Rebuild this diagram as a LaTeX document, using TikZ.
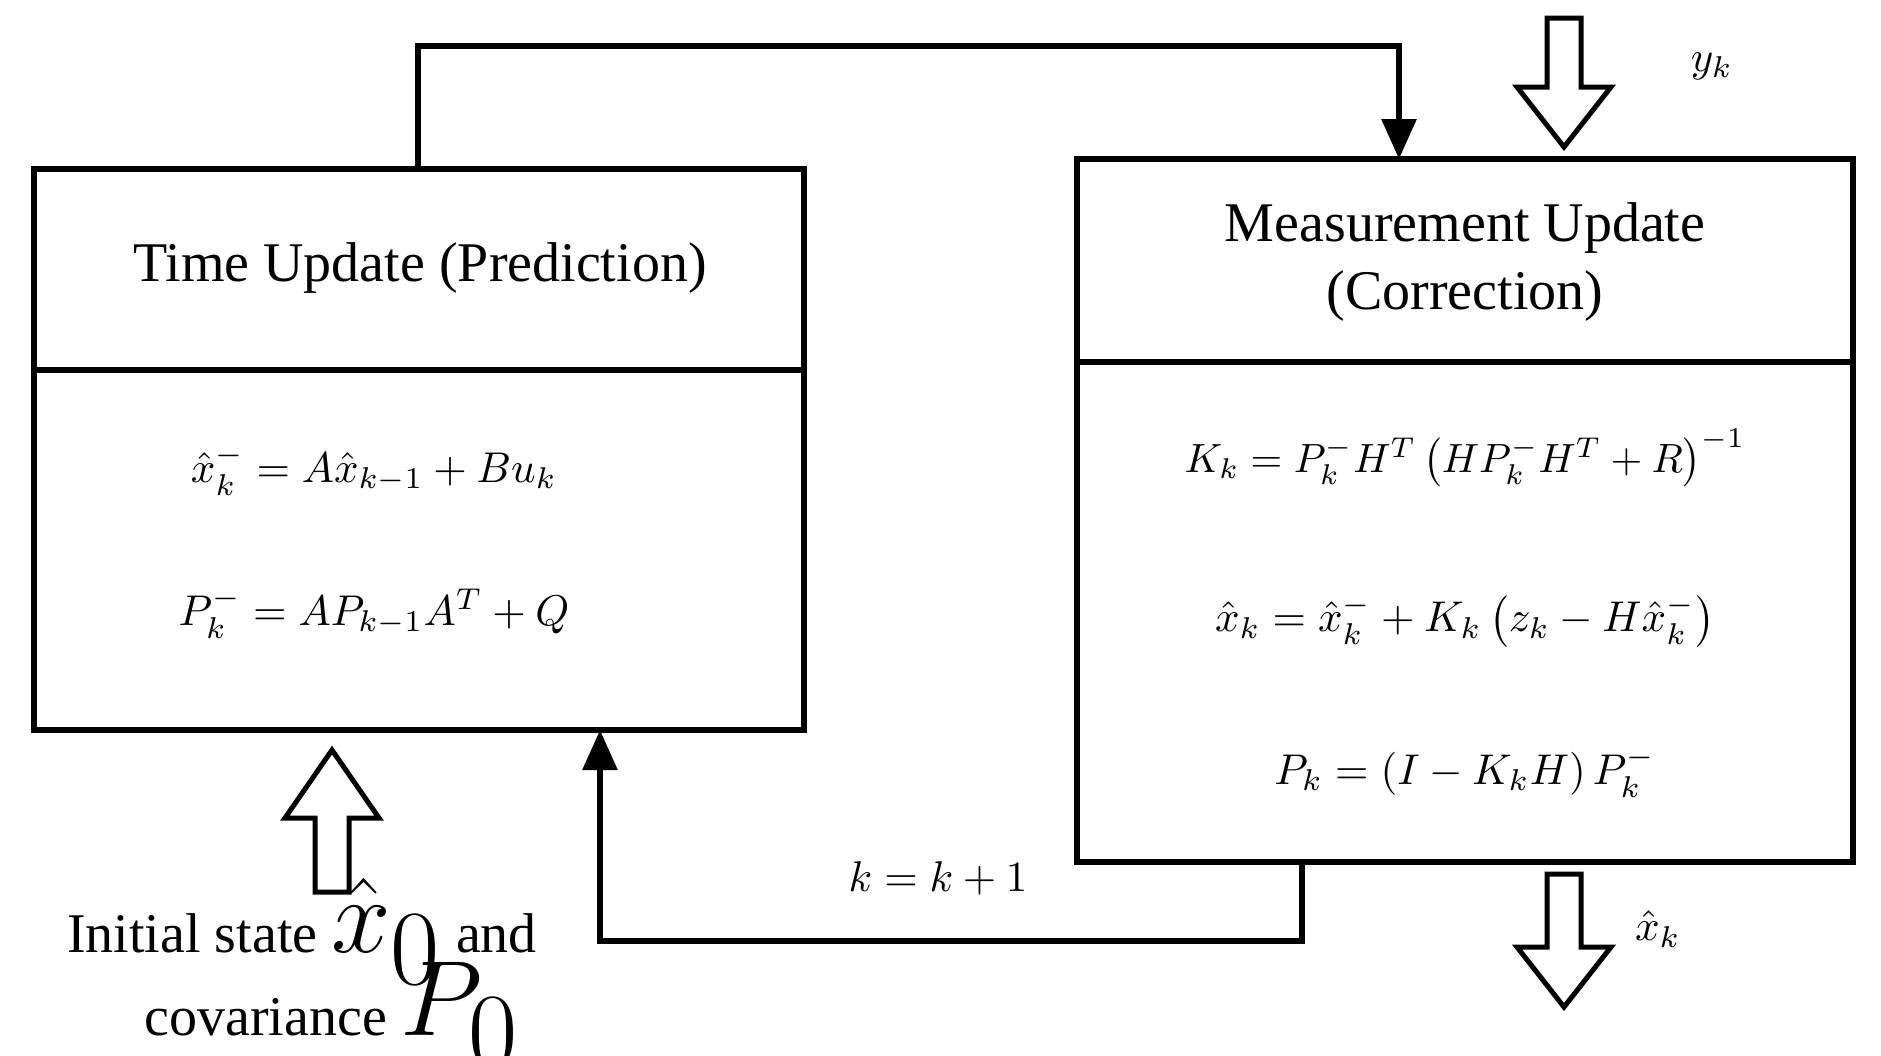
\documentclass[tikz,border=0pt]{standalone}
\usepackage{fontspec}
\setmainfont{Liberation Serif}
\usetikzlibrary{arrows.meta}
\begin{document}
\begin{tikzpicture}[x=1pt,y=-1pt,
  box/.style={draw,line width=6pt},
  conn/.style={line width=6pt,-{Triangle[length=40pt,width=34pt]}},
  hollow/.style={draw,line width=5pt,fill=white,line join=miter},
  txt/.style={font=\fontsize{56}{68}\selectfont,align=center,inner sep=0pt},
  eq/.style={inner sep=0pt,scale=4.3,transform shape}]
\useasboundingbox (0,0) rectangle (1881,1055);
% boxes
\draw[box] (34,169) rectangle (804,730);
\draw[box] (34,370) -- (804,370);
\draw[box] (1077,159) rectangle (1853,862);
\draw[box] (1077,362) -- (1853,362);
\coordinate (lt) at (418,169);
\coordinate (rt) at (1399,159);
\coordinate (rb) at (1302,862);
\coordinate (lb) at (600,730);
\node[txt] (t1) at (420,268) {Time Update (Prediction)};
\node[txt] (t2) at (1465,262) {Measurement Update\\(Correction)};
\node[eq] (e1) at (374,470) {$\hat{x}_k^- = A\hat{x}_{k-1} + Bu_k$};
\node[eq] (e2) at (374,613) {$P_k^- = AP_{k-1}A^T + Q$};
\node[eq,scale=0.95] (e3) at (1465,458) {$K_k = P_k^- H^T\left(HP_k^- H^T + R\right)^{-1}$};
\node[eq] (e4) at (1465,621) {$\hat{x}_k = \hat{x}_k^- + K_k\left(z_k - H\hat{x}_k^-\right)$};
\node[eq] (e5) at (1465,772) {$P_k = \left(I - K_k H\right)P_k^-$};
% connectors
\draw[conn] (lt) -- (418,46) -- (1399,46) -- (rt);
\draw[conn] (rb) -- (1302,941) -- (600,941) -- (lb);
\node[eq] (kk) at (938,878) {$k = k + 1$};
% hollow arrows
\draw[hollow] (1547,18) -- (1581,18) -- (1581,87) -- (1611,87) -- (1564,147) -- (1517,87) -- (1547,87) -- cycle;
\node[eq] (yk) at (1712,66) {$y_k$};
\draw[hollow] (1547,874) -- (1581,874) -- (1581,947) -- (1611,947) -- (1564,1007) -- (1517,947) -- (1547,947) -- cycle;
\node[eq] (xk) at (1658,929) {$\hat{x}_k$};
\draw[hollow] (315,892) -- (349,892) -- (349,818) -- (379,818) -- (332,750) -- (285,818) -- (315,818) -- cycle;
\node[txt] (init) at (302,931) {Initial state \scalebox{4.3}{$\hat{x}_0$} and};
\node[txt] (cov) at (332,1015) {covariance \scalebox{4.3}{$P_0$}};
\end{tikzpicture}
\end{document}
